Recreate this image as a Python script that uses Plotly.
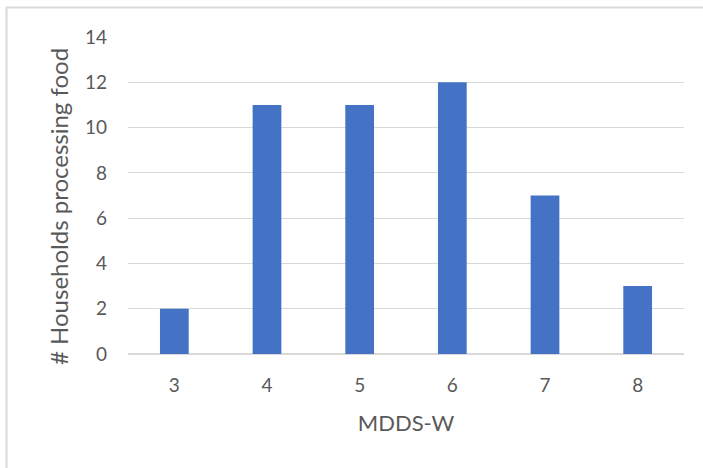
import plotly.graph_objects as go

# MDDS-W scores and number of households processing food
mdds_w = ["3", "4", "5", "6", "7", "8"]
households = [2, 11, 11, 12, 7, 3]
y_ticks = [0, 2, 4, 6, 8, 10, 12, 14]
y_title = "# Households processing food"

W, H = 703, 468
L, R, T, B = 128, 19, 37, 114
pw, ph = W - L - R, H - T - B

fig = go.Figure(
    go.Bar(
        x=mdds_w,
        y=households,
        marker=dict(color="#4472C4", line=dict(width=0)),
        width=0.31,
    )
)

font_family = "Lato, 'Open Sans', sans-serif"
tick_color = "#595959"

fig.update_layout(
    width=W,
    height=H,
    margin=dict(l=L, r=R, t=T, b=B, pad=0),
    paper_bgcolor="white",
    plot_bgcolor="white",
    showlegend=False,
    font=dict(family=font_family, color=tick_color),
    xaxis=dict(
        type="category",
        tickfont=dict(size=19, color=tick_color),
        ticklabelstandoff=18,
        showgrid=False,
        showline=False,
        zeroline=False,
        title=dict(text="MDDS-W", font=dict(size=22, color=tick_color), standoff=20),
    ),
    yaxis=dict(
        range=[0, 14],
        tickvals=y_ticks,
        tickfont=dict(size=19, color=tick_color),
        ticklabelstandoff=20,
        showgrid=True,
        gridcolor="#D9D9D9",
        gridwidth=1.3,
        zeroline=True,
        zerolinecolor="#D9D9D9",
        zerolinewidth=1.5,
        showline=False,
    ),
    annotations=[
        dict(
            text=y_title,
            xref="paper",
            yref="paper",
            x=(58 - L) / pw,
            y=(H - B - 207) / ph,
            xanchor="center",
            yanchor="middle",
            textangle=-90,
            showarrow=False,
            font=dict(size=24, color=tick_color),
        )
    ],
    shapes=[
        dict(
            type="rect",
            xref="paper",
            yref="paper",
            x0=(6.5 - L) / pw,
            x1=(W + 20 - L) / pw,
            y0=(H - B - (H + 20)) / ph,
            y1=(H - B - 7.5) / ph,
            line=dict(color="#D9D9D9", width=2),
            fillcolor="rgba(0,0,0,0)",
            layer="below",
        )
    ],
)

fig.write_html("out.html")
